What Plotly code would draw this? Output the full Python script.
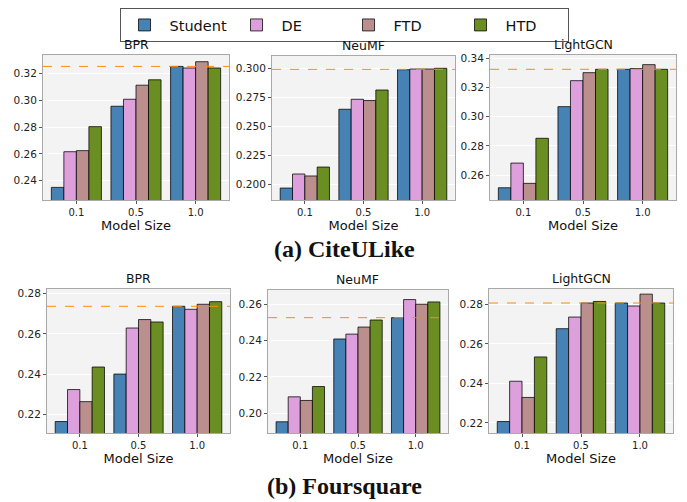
import plotly.graph_objects as go

sizes = ["0.1", "0.5", "1.0"]
methods = ["Student", "DE", "FTD", "HTD"]
colors = ["#4682B4", "#DDA0DD", "#BC8F8F", "#6B8E23"]
models = ["BPR", "NeuMF", "LightGCN"]

# CiteULike
cite_bpr = [[0.2350, 0.2955, 0.3252], [0.2616, 0.3007, 0.3240], [0.2624, 0.3112, 0.3287], [0.2803, 0.3152, 0.3240]]
cite_neumf = [[0.1968, 0.2647, 0.2988], [0.2089, 0.2733, 0.2994], [0.2072, 0.2722, 0.2994], [0.2149, 0.2813, 0.3000]]
cite_lgcn = [[0.2513, 0.3069, 0.3325], [0.2682, 0.3247, 0.3330], [0.2543, 0.3302, 0.3357], [0.2852, 0.3325, 0.3325]]
cite_teacher = [0.3252, 0.2991, 0.3325]
cite_ranges = [[0.2256, 0.3337], [0.1865, 0.3106], [0.2429, 0.3423]]
cite_ticks = [[0.24, 0.26, 0.28, 0.30, 0.32], [0.200, 0.225, 0.250, 0.275, 0.300], [0.26, 0.28, 0.30, 0.32, 0.34]]
cite_fmt = [".2f", ".3f", ".2f"]

# Foursquare
four_bpr = [[0.2164, 0.2400, 0.2737], [0.2323, 0.2629, 0.2722], [0.2263, 0.2671, 0.2747], [0.2435, 0.2659, 0.2760]]
four_neumf = [[0.1952, 0.2410, 0.2528], [0.2090, 0.2437, 0.2628], [0.2070, 0.2476, 0.2602], [0.2147, 0.2515, 0.2615]]
four_lgcn = [[0.2207, 0.2677, 0.2807], [0.2411, 0.2736, 0.2792], [0.2329, 0.2807, 0.2852], [0.2534, 0.2815, 0.2807]]
four_teacher = [0.2737, 0.2528, 0.2807]
four_ranges = [[0.2107, 0.2823], [0.1890, 0.2681], [0.2149, 0.2878]]
four_ticks = [[0.22, 0.24, 0.26, 0.28], [0.20, 0.22, 0.24, 0.26], [0.22, 0.24, 0.26, 0.28]]
four_fmt = [".2f", ".2f", ".2f"]

OFF = 8  # page body margin in the browser
W, H = 687 - OFF, 502 - OFF
TOP = 36  # top margin reserved for the legend


def px_x(px):
    return (px - OFF) / W


def px_y(py):
    return 1 - (py - OFF - TOP) / (H - TOP)


# panel boxes in screen pixels: (left, right, top, bottom)
boxes = [
    [(43, 229, 55, 200), (272, 455, 56, 200), (490, 676, 55, 200)],
    [(47, 230, 289, 433), (268, 448, 290, 433), (489, 673, 289, 433)],
]
rows = [
    (cite_bpr, cite_neumf, cite_lgcn, cite_teacher, cite_ranges, cite_ticks, cite_fmt, "(a) CiteULike", 249),
    (four_bpr, four_neumf, four_lgcn, four_teacher, four_ranges, four_ticks, four_fmt, "(b) Foursquare", 486),
]

fig = go.Figure()
font = "DejaVu Sans"
annotations = []
shapes = []
n = 0
for r, (b, nm, lg, teacher, ranges, ticks, fmts, caption, cap_y) in enumerate(rows):
    for c, data in enumerate([b, nm, lg]):
        n += 1
        xa = "x" if n == 1 else f"x{n}"
        ya = "y" if n == 1 else f"y{n}"
        left, right, top, bottom = boxes[r][c]
        for k, m in enumerate(methods):
            fig.add_trace(go.Bar(
                x=sizes, y=data[k], name=m, xaxis=xa, yaxis=ya,
                marker=dict(color=colors[k], line=dict(color="rgba(0,0,0,0.75)", width=1)),
                showlegend=(n == 1), legendgroup=m,
            ))
        xkey = "xaxis" if n == 1 else f"xaxis{n}"
        ykey = "yaxis" if n == 1 else f"yaxis{n}"
        fig.layout[xkey] = dict(
            domain=[px_x(left), px_x(right)], anchor=ya, range=[-0.56, 2.56],
            showline=True, linecolor="#a8a8a8", linewidth=1, mirror=True,
            ticks="outside", ticklen=3, tickcolor="#555", showgrid=False,
            tickfont=dict(size=10, color="#222", family=font),
            title=dict(text="Model Size", font=dict(size=13, color="#111", family=font), standoff=2),
        )
        fig.layout[ykey] = dict(
            domain=[px_y(bottom), px_y(top)], anchor=xa, range=ranges[c],
            tickvals=ticks[c], tickformat=fmts[c],
            showline=True, linecolor="#a8a8a8", linewidth=1, mirror=True,
            ticks="outside", ticklen=3, tickcolor="#555",
            showgrid=True, gridcolor="white", gridwidth=1, zeroline=False,
            tickfont=dict(size=10.5, color="#222", family=font),
        )
        shapes.append(dict(
            type="line", xref=f"{xa} domain", x0=0, x1=1, yref=ya, y0=teacher[c], y1=teacher[c],
            line=dict(color="#FF8C00", width=1, dash="dash"),
        ))
        annotations.append(dict(
            text=models[c], xref="paper", yref="paper", x=px_x((left + right) / 2), y=px_y(top),
            yanchor="bottom", xanchor="center", yshift=1, showarrow=False,
            font=dict(size=12.5, color="#111", family=font),
        ))
    annotations.append(dict(
        text=f"<b>{caption}</b>", xref="paper", yref="paper", x=px_x(344), y=px_y(cap_y),
        xanchor="center", yanchor="middle", showarrow=False,
        font=dict(size=24, color="#111", family="Liberation Serif"),
    ))

fig.update_layout(
    width=W, height=H, margin=dict(l=0, r=0, t=TOP, b=0, pad=0),
    paper_bgcolor="white", plot_bgcolor="#F3F3F3",
    barmode="group", bargap=0.16, bargroupgap=0,
    annotations=annotations, shapes=shapes,
    legend=dict(
        orientation="h", xref="container", yref="container",
        x=(344 - OFF) / W, xanchor="center", y=1, yanchor="top",
        bordercolor="#555", borderwidth=1, bgcolor="white",
        font=dict(size=14.5, color="#111", family=font),
        itemwidth=40, entrywidth=57, entrywidthmode="pixels",
    ),
    font=dict(family=font),
)

fig.write_html("out.html")
